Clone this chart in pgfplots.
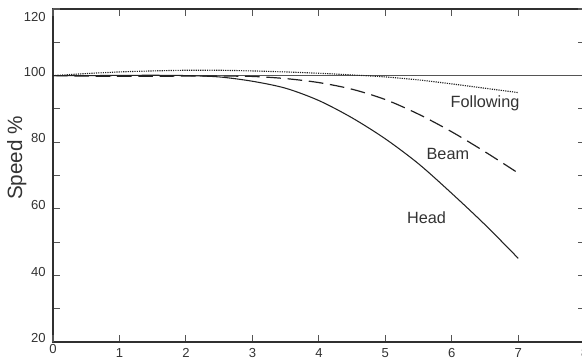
\documentclass[border=0pt]{standalone}
\usepackage{pgfplots}
\pgfplotsset{compat=1.18}
\usepackage{fontspec}
\setmainfont{Liberation Sans}
\definecolor{axc}{HTML}{303030}
\definecolor{tkc}{HTML}{555555}
\definecolor{txc}{HTML}{333333}
\definecolor{lnc}{HTML}{222222}
\begin{document}
\begin{tikzpicture}
\useasboundingbox (-39.75pt,-12.75pt) rectangle (396.75pt,256.5pt);
\clip (-39.75pt,-12.75pt) rectangle (396.75pt,256.5pt);
\begin{axis}[
  at={(0pt,0pt)}, anchor=south west,
  scale only axis, width=398.85pt, height=249.75pt,
  xmin=0, xmax=8, ymin=20, ymax=120,
  axis line style={axc, line width=1pt},
  tick style={tkc, line width=0.8pt},
  major tick length=5.25pt,
  tick align=inside,
  xtick={1,2,...,8},
  extra x ticks={0},
  extra x tick labels={0},
  extra x tick style={xticklabel style={yshift=2.6pt}},
  ytick={20,30,...,110},
  yticklabels={20,,40,,60,,80,,100,},
  extra y ticks={120},
  extra y tick labels={120},
  extra y tick style={yticklabel style={yshift=-8.8pt}},
  /pgf/number format/assume math mode=true,
  ticklabel style={font=\fontsize{9.8}{11}\selectfont, text=txc},
  xticklabel style={yshift=-1.2pt},
  yticklabel style={xshift=-2pt, yshift=2.8pt},
  ylabel={Speed \%},
  ylabel style={at={(axis description cs:-0.068,0.553)}, anchor=center, font=\fontsize{15.5}{18}\selectfont, text=txc},
  clip=false,
]
\addplot[tkc, line width=0.8pt] coordinates {(0,100) (8,100)};
\addplot[lnc, line width=0.85pt, dash pattern=on 0.9pt off 0.8pt, smooth] coordinates {
(0,100) (0.5,100.6) (1,101.1) (1.5,101.4) (2,101.6) (2.5,101.6) (3,101.4) (3.5,101.1) (4,100.7) (4.5,100.2) (5,99.6) (5.5,98.7) (6,97.5) (6.5,96.2) (7,94.9)};
\addplot[lnc, line width=0.9pt, dash pattern=on 11pt off 5pt, smooth] coordinates {
(0,100) (0.5,99.85) (1,99.8) (1.5,99.8) (2,99.85) (2.5,99.85) (3,99.75) (3.5,99.1) (4,97.9) (4.5,95.9) (5,92.8) (5.5,88.4) (6,83.1) (6.5,77.1) (7,70.7)};
\addplot[lnc, line width=0.8pt, smooth] coordinates {
(0,100) (0.5,100) (1,100.05) (1.5,100.1) (2,100) (2.5,99.6) (3,98.3) (3.5,96.2) (4,92.5) (4.5,87.3) (5,81.0) (5.5,73.5) (6,64.6) (6.5,55.2) (7,45.1)};
\node[font=\fontsize{12.2}{14}\selectfont, text=txc] at (axis cs:6.5,91.8) {Following};
\node[font=\fontsize{12.2}{14}\selectfont, text=txc] at (axis cs:5.94,76.5) {Beam};
\node[font=\fontsize{12.2}{14}\selectfont, text=txc] at (axis cs:5.62,57.2) {Head};
\end{axis}
\end{tikzpicture}
\end{document}
